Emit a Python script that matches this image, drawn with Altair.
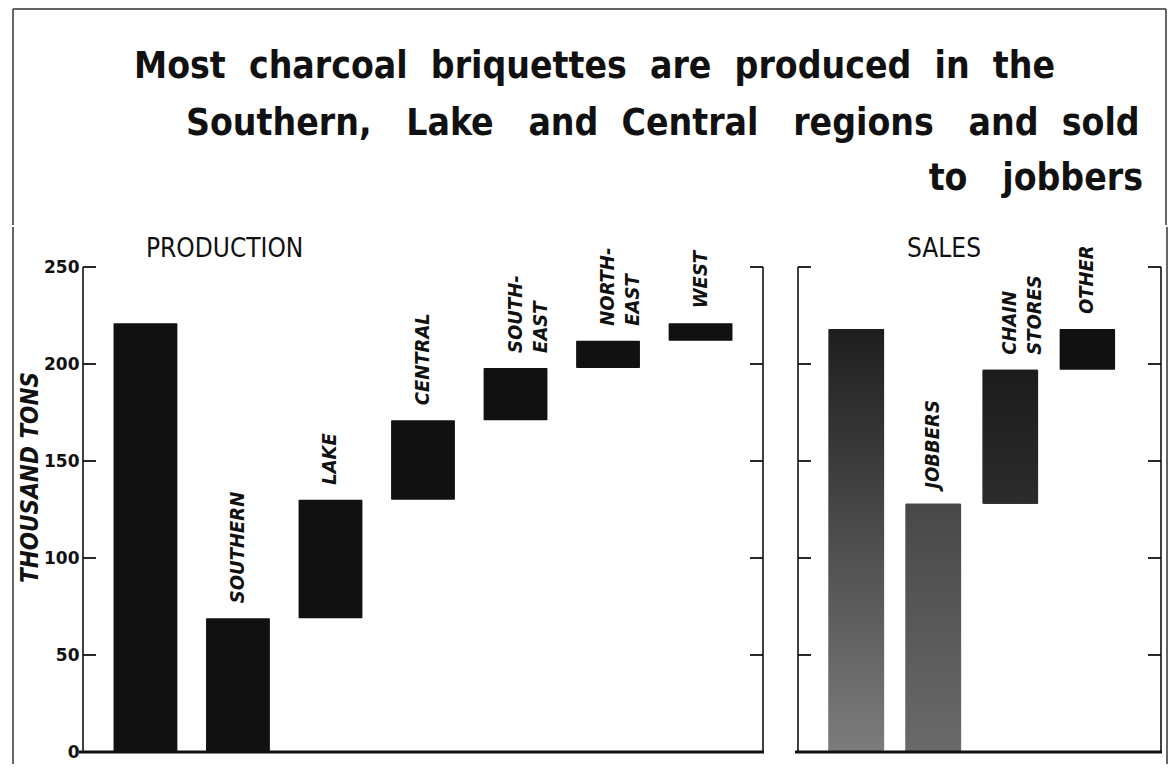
import altair as alt
import pandas as pd

# ---------------- data ----------------
NB = "\u00a0"
title_words = [
    ["Most", "charcoal", "briquettes", "are", "produced", "in", "the"],
    ["Southern,", "Lake", "and", "Central", "regions", "and", "sold"],
    ["to", "jobbers"],
]
# number of (non-collapsing) spaces between consecutive words
title_gaps = [
    [2, 2, 2, 2, 2, 2],
    [3, 3, 2, 3, 3, 2],
    [3],
]

prod_cats = ["TOTAL", "SOUTHERN", "LAKE", "CENTRAL", "SOUTH-EAST", "NORTH-EAST", "WEST"]
prod_labels = ["", "SOUTHERN", "LAKE", "CENTRAL", "SOUTH-\nEAST", "NORTH-\nEAST", "WEST"]
prod_low = [0, 0, 69, 130, 171, 198, 212]
prod_high = [221, 69, 130, 171, 198, 212, 221]

sales_cats = ["TOTAL", "JOBBERS", "CHAIN STORES", "OTHER"]
sales_labels = ["", "JOBBERS", "CHAIN\nSTORES", "OTHER"]
sales_low = [0, 0, 128, 197]
sales_high = [218, 128, 197, 218]

panel_titles = ["PRODUCTION", "SALES"]
y_ticks = [0, 50, 100, 150, 200, 250]

# ---------------- style ----------------
COND = "'DejaVu Sans Condensed', 'Liberation Sans Narrow', 'DejaVu Sans', sans-serif"
PLAIN = "'DejaVu Sans', sans-serif"
H = 485
TICK = 13
INK = "#111111"
FRAME = "#333333"
FRAME_TOP = -40


def grad(c_top, c_bot):
    return {"gradient": "linear", "x1": 0, "y1": 0, "x2": 0, "y2": 1,
            "stops": [{"offset": 0, "color": c_top}, {"offset": 1, "color": c_bot}]}


# speckled (screen-printed) bars approximated by gradients
sales_fills = {
    "TOTAL": grad("#1e1e1e", "#7c7c7c"),
    "JOBBERS": grad("#484848", "#6a6a6a"),
    "CHAIN STORES": grad("#1c1c1c", "#2c2c2c"),
}


def panel(cats, labels, low, high, width, title, title_dx, pad_inner, pad_outer,
          align, fills, left_axis, frame_x, bottom_x0):
    df = pd.DataFrame({"cat": cats, "label": labels, "low": low, "high": high})
    tk = pd.DataFrame({"v": y_ticks})
    zero = pd.DataFrame({"v": [y_ticks[0]], "top": [y_ticks[-1]], "t": [title]})
    xs = alt.Scale(domain=cats, paddingInner=pad_inner, paddingOuter=pad_outer, align=align)
    ys = alt.Scale(domain=[y_ticks[0], y_ticks[-1]], nice=False)

    if left_axis:
        yaxis = alt.Axis(values=y_ticks, domain=False, ticks=False, grid=False,
                         labelFont=PLAIN, labelFontSize=17, labelFontWeight="bold",
                         labelColor=INK, labelPadding=4,
                         title="THOUSAND  TONS", titleFont=COND, titleFontSize=24,
                         titleFontWeight="bold", titleFontStyle="italic", titleColor=INK,
                         titleAngle=270, titleX=-53, titleY=210, titleAlign="center",
                         titleBaseline="middle")
    else:
        yaxis = None

    X = alt.X("cat:N", scale=xs, axis=None, sort=cats)

    def Y(f):
        return alt.Y(f, scale=ys, axis=yaxis)

    layers = [alt.Chart(df).mark_bar(cornerRadius=1).encode(
        x=X, y=Y("low:Q"), y2="high:Q", color=alt.value(INK))]
    for cat, fill in fills.items():
        layers.append(
            alt.Chart(df).transform_filter(alt.datum.cat == cat)
            .mark_bar(cornerRadius=1, fill=fill)
            .encode(x=X, y=Y("low:Q"), y2="high:Q"))

    layers.append(alt.Chart(df).mark_text(
        angle=270, align="left", baseline="middle", dx=15, font=COND, fontSize=20,
        fontWeight="bold", fontStyle="italic", lineBreak="\n", lineHeight=25, color=INK,
    ).encode(x=X, y=Y("high:Q"), text="label:N"))

    layers += [
        alt.Chart(tk).mark_rule(color=INK, strokeWidth=1.8).encode(
            y=Y("v:Q"), x=alt.value(0), x2=alt.value(TICK)),
        alt.Chart(tk).mark_rule(color=INK, strokeWidth=1.8).encode(
            y=Y("v:Q"), x=alt.value(width - TICK), x2=alt.value(width)),
        alt.Chart(zero).mark_rule(color=INK, strokeWidth=1.6).encode(
            y=Y("v:Q"), y2="top:Q", x=alt.value(0)),
        alt.Chart(zero).mark_rule(color=INK, strokeWidth=1.6).encode(
            y=Y("v:Q"), y2="top:Q", x=alt.value(width)),
        alt.Chart(zero).mark_rule(color=INK, strokeWidth=3.2).encode(
            y=Y("v:Q"), x=alt.value(bottom_x0), x2=alt.value(width + 1)),
        alt.Chart(zero).mark_rule(color=FRAME, strokeWidth=1.5).encode(
            x=alt.value(frame_x), y=alt.value(FRAME_TOP), y2=alt.value(H + 12)),
        alt.Chart(zero).mark_text(
            align="left", baseline="alphabetic", font=COND, fontSize=26, color=INK,
        ).encode(x=alt.value(title_dx), y=alt.value(-10), text="t:N"),
    ]
    return alt.layer(*layers).properties(width=width, height=H)


# page x of left plot = 82 ; right plot = 796 ; frame at 12 and 1165
left = panel(prod_cats, prod_labels, prod_low, prod_high, 680, panel_titles[0], 63,
             0.31, 0.33, 0.5, {}, True, -70, -4)
right = panel(sales_cats, sales_labels, sales_low, sales_high, 363, panel_titles[1], 109,
              0.28, 0.497, 0.4, sales_fills, False, 369, -3)

# ---------------- title block (origin aligned with left plot) ----------------
H1 = 217
FR = 1083


def join_words(words, gaps):
    out = words[0]
    for w, g in zip(words[1:], gaps):
        out += NB * g + w
    return out


tdf = [pd.DataFrame({"t": [join_words(w, g)]}) for w, g in zip(title_words, title_gaps)]


def tline(i, x, y, align):
    return alt.Chart(tdf[i]).mark_text(
        align=align, baseline="alphabetic", font=COND, fontSize=37,
        fontWeight="bold", color=INK,
    ).encode(x=alt.value(x), y=alt.value(y), text="t:N")


t1 = tline(0, 51, 70, "left")
t2 = tline(1, 103, 127, "left")
t3 = tline(2, 1060, 182, "right")
ftop = alt.Chart(tdf[2]).mark_rule(color=FRAME, strokeWidth=1.5).encode(
    x=alt.value(-70), x2=alt.value(FR), y=alt.value(1))
fl = alt.Chart(tdf[2]).mark_rule(color=FRAME, strokeWidth=1.5).encode(
    x=alt.value(-70), y=alt.value(1), y2=alt.value(H1))
fr = alt.Chart(tdf[2]).mark_rule(color=FRAME, strokeWidth=1.5).encode(
    x=alt.value(FR), y=alt.value(1), y2=alt.value(H1))
title_chart = alt.layer(t1, t2, t3, ftop, fl, fr).properties(width=FR, height=H1)

chart = alt.vconcat(
    title_chart,
    alt.hconcat(left, right, spacing=27),
    spacing=0,
).properties(
    padding={"left": 4, "top": 0, "right": 0, "bottom": 0},
    background="white",
).configure_view(stroke=None)

chart.save("out.html", embed_options={"renderer": "svg", "actions": False})
